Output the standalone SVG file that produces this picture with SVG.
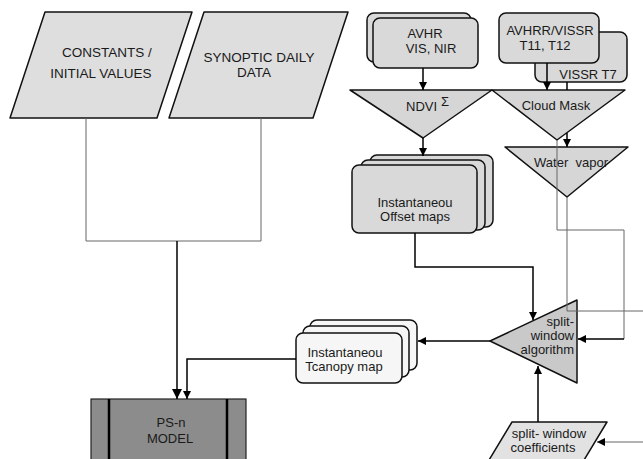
<svg xmlns="http://www.w3.org/2000/svg" width="643" height="459" viewBox="0 0 643 459">
<defs>
<marker id="ah" viewBox="0 0 10 10" refX="10" refY="5" markerWidth="8" markerHeight="8" markerUnits="userSpaceOnUse" orient="auto">
<path d="M0,0 L10,5 L0,10 z" fill="#000"/>
</marker>
<marker id="ahb" viewBox="0 0 10 10" refX="10" refY="5" markerWidth="10" markerHeight="10" markerUnits="userSpaceOnUse" orient="auto">
<path d="M0,0 L10,5 L0,10 z" fill="#000"/>
</marker>
<style>
text{font-family:"Liberation Sans",Arial,sans-serif;font-size:13px;fill:#1a1a1a}
.big{font-size:13.5px}
.c{text-anchor:middle}
.r{text-anchor:end}
.shape{stroke:#111;stroke-width:1.5;stroke-linejoin:round}
.para{fill:#dedede}
.box{fill:#d9d9d9}
.light{fill:#f6f6f6}
.tri{fill:#d6d6d6}
.thin{fill:none;stroke:#666;stroke-width:1}
.arr{fill:none;stroke:#000;stroke-width:1.5}
</style>
</defs>

<g id="constants">
<polygon class="shape para" points="45,12 192,12 157,118 10,118"/>
<text x="107" y="57" class="c big">CONSTANTS /</text>
<text x="101" y="78" class="c big">INITIAL VALUES</text>
</g>

<g id="synoptic">
<polygon class="shape para" points="204,12 348,12 313,118 169,118"/>
<text x="259" y="62" class="c big">SYNOPTIC DAILY</text>
<text x="254" y="77" class="c big">DATA</text>
</g>

<g id="avhr">
<rect class="shape box" x="367" y="13" width="104" height="49" rx="7"/>
<rect class="shape box" x="373" y="18" width="105" height="50" rx="7"/>
<text x="425" y="38" class="c">AVHR</text>
<text x="431" y="53" class="c">VIS, NIR</text>
</g>

<g id="vissr-t7">
<rect class="shape box" x="535" y="32" width="92" height="50" rx="7"/>
<text x="588" y="79" class="c">VISSR T7</text>
</g>

<g id="avhrr-vissr">
<rect class="shape box" x="499" y="13" width="100" height="50" rx="7"/>
<text x="550" y="35" class="c">AVHRR/VISSR</text>
<text x="545" y="50" class="c">T11, T12</text>
</g>

<g id="ndvi">
<polygon class="shape tri" points="350,90 492,90 423,138"/>
<text x="406" y="111">NDVI</text>
<text x="441" y="106" font-size="10">Σ</text>
</g>

<g id="cloud-mask">
<polygon class="shape tri" points="492,90 625,90 557,140"/>
<text x="556" y="110" class="c">Cloud Mask</text>
</g>

<g id="water-vapor">
<polygon class="shape tri" points="505,147 628,147 567,197"/>
<text x="571" y="167" class="c" xml:space="preserve">Water  vapor</text>
</g>

<g id="offset-maps">
<rect class="shape box" x="370" y="155" width="123" height="72" rx="7"/>
<rect class="shape box" x="361" y="160" width="124" height="70" rx="7"/>
<rect class="shape box" x="352" y="165" width="125" height="68" rx="7"/>
<text x="415" y="207" class="c">Instantaneou</text>
<text x="415" y="221" class="c">Offset maps</text>
</g>

<g id="split-window">
<polygon class="shape" fill="#c9c9c9" points="577,300 577,383 490,341"/>
<text x="574" y="326" class="r">split-</text>
<text x="574" y="340" class="r">window</text>
<text x="574" y="354" class="r">algorithm</text>
</g>

<g id="tcanopy">
<rect class="shape light" x="310" y="320" width="107" height="50" rx="7"/>
<rect class="shape light" x="303" y="326" width="106" height="51" rx="7"/>
<rect class="shape light" x="296" y="333" width="106" height="50" rx="7"/>
<text x="345" y="357" class="c">Instantaneou</text>
<text x="344" y="371" class="c">Tcanopy map</text>
</g>

<g id="coefficients">
<polygon class="shape" fill="#e2e2e2" points="512,422 607,422 578,470 483,470"/>
<text x="549" y="438" class="c">split- window</text>
<text x="543" y="452" class="c">coefficients</text>
</g>

<g id="ps-n-model">
<rect x="91" y="399" width="155" height="70" fill="#8c8c8c" stroke="#222" stroke-width="1.2"/>
<line x1="109" y1="399" x2="109" y2="469" stroke="#000" stroke-width="2.5"/>
<line x1="227" y1="399" x2="227" y2="469" stroke="#000" stroke-width="2.5"/>
<text x="171" y="427" class="c">PS-n</text>
<text x="170" y="443" class="c">MODEL</text>
</g>

<g id="connectors">
<path class="thin" d="M86,118 V241 H261"/>
<path class="thin" d="M261,118 V241"/>
<path class="arr" d="M177,241 V399" marker-end="url(#ahb)"/>
<path class="arr" d="M296,359 H187 V399" marker-end="url(#ah)"/>
<path class="arr" d="M423,68 V90" marker-end="url(#ah)"/>
<path class="arr" d="M547,63 V90" marker-end="url(#ah)"/>
<path class="arr" d="M567,82 V90" stroke-width="1"/>
<path class="arr" d="M567,133 V147" stroke-width="1" marker-end="url(#ah)"/>
<path class="arr" d="M423,138 V156" marker-end="url(#ah)"/>
<path class="thin" d="M557,140 V230 H624 V339"/>
<path class="arr" d="M624,339 H578" stroke="#555" stroke-width="1" marker-end="url(#ah)"/>
<path class="thin" d="M567,197 V311 H643"/>
<path class="arr" d="M415,233 V267 H533 V320" marker-end="url(#ah)"/>
<path class="arr" d="M490,341 H418" marker-end="url(#ah)"/>
<path class="arr" d="M538,422 V366" marker-end="url(#ah)"/>
<path class="thin" d="M643,442 H597" marker-end="url(#ah)"/>
</g>
</svg>
